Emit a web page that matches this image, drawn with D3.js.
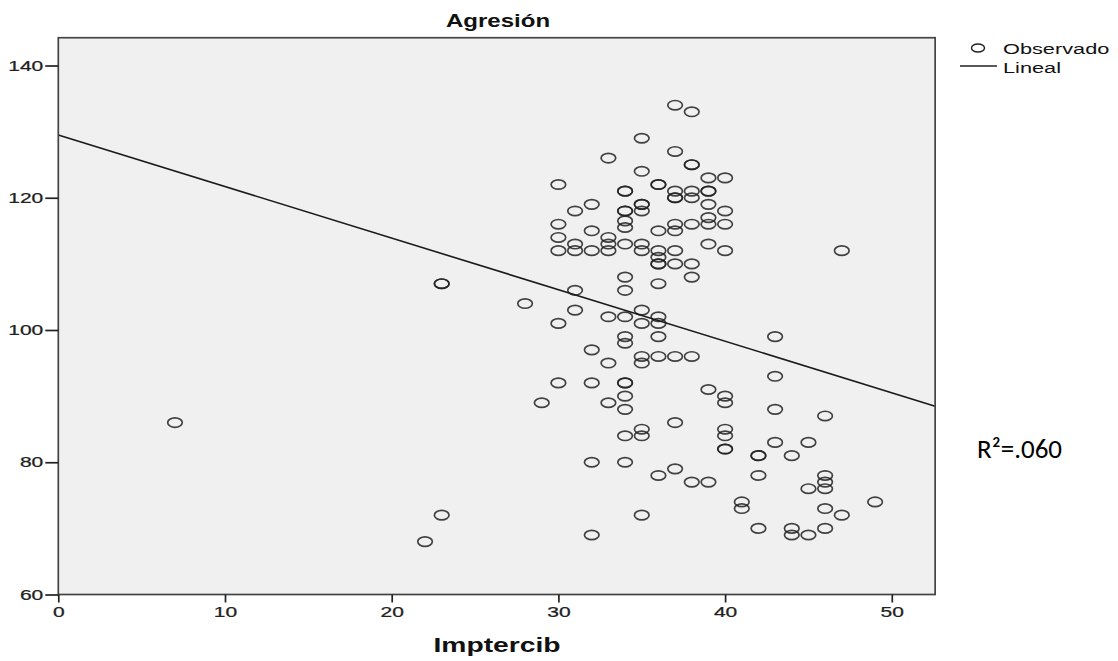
<!DOCTYPE html>
<html><head><meta charset="utf-8">
<script src="https://cdn.jsdelivr.net/npm/d3@7"></script>
<style>body{margin:0;background:#fff}svg{display:block}</style>
</head><body>
<svg id="c" width="1118" height="661"></svg>
<script>
const title = "Agresión";
const xLabel = "Imptercib";
const r2Label = "R²=.060";
const legendLabels = ["Observado", "Lineal"];
const xTicks = [0, 10, 20, 30, 40, 50];
const yTicks = [60, 80, 100, 120, 140];
const lineIntercept = 129.5;
const lineSlope = -0.78;
// observed points: [Imptercib, Agresión]
const pointsX = [7,22,23,23,23,28,29,
 30,30,30,30,30,30,
 31,31,31,31,31,
 32,32,32,32,32,32,32,
 33,33,33,33,33,33,33,
 34,34,34,34,34,34,34,34,34,34,34,34,34,34,34,34,34,34,
 35,35,35,35,35,35,35,35,35,35,35,35,35,35,
 36,36,36,36,36,36,36,36,36,36,36,36,36,
 37,37,37,37,37,37,37,37,37,37,37,37,
 38,38,38,38,38,38,38,38,38,38,
 39,39,39,39,39,39,39,39,39,
 40,40,40,40,40,40,40,40,40,40,
 41,41,42,42,42,42,43,43,43,43,44,44,44,45,45,45,
 46,46,46,46,46,46,47,47,49];
const pointsY = [86,68,107,107,72,104,89,
 122,116,114,112,101,92,
 118,113,112,106,103,
 119,115,112,97,92,80,69,
 126,114,113,112,102,95,89,
 121,118,118,116.5,115.5,113,108,106,102,99,98,92,92,90,88,84,80,121,
 129,124,119,118,113,112,103,101,96,95,85,84,72,119,
 122,122,115,112,111,110,107,102,101,99,96,78,110,
 134,127,121,120,120,116,115,112,110,96,86,79,
 133,125,125,121,120,116,110,108,96,77,
 123,121,121,119,117,116,113,91,77,
 123,118,116,112,90,89,85,84,82,82,
 74,73,81,78,70,81,99,93,88,83,81,70,69,83,76,69,
 87,78,77,76,73,70,112,72,74];

const svg = d3.select("#c");
const M = {left: 58.3, right: 935.5, top: 38.3, bottom: 594.5};
const x = d3.scaleLinear().domain([0, 52.6]).range([M.left, M.left + 16.67*52.6]);
const y = d3.scaleLinear().domain([60, 144.2]).range([M.bottom, M.bottom - 6.6125*84.2]);
const SX = 1.45; // horizontal stretch of SPSS text

svg.append("rect").attr("x", M.left).attr("y", y(144.2)).attr("width", x(52.6)-M.left)
  .attr("height", M.bottom - y(144.2)).attr("fill", "#f0f0f0");

const pts = pointsX.map((v,i)=>[v, pointsY[i]]);
svg.append("g").selectAll("ellipse").data(pts).join("ellipse")
  .attr("cx", d=>x(d[0])).attr("cy", d=>y(d[1])).attr("rx", 7.3).attr("ry", 4.7)
  .attr("fill", "none").attr("stroke", "#222").attr("stroke-width", 1.7).attr("stroke-opacity", 0.85);

svg.append("line")
  .attr("x1", x(0)).attr("y1", y(lineIntercept))
  .attr("x2", x(52.6)).attr("y2", y(lineIntercept + lineSlope*52.6))
  .attr("stroke", "#1a1a1a").attr("stroke-width", 1.6);

// frame
svg.append("rect").attr("x", M.left).attr("y", y(144.2)).attr("width", x(52.6)-M.left)
  .attr("height", M.bottom - y(144.2)).attr("fill", "none").attr("stroke", "#444").attr("stroke-width", 1.7);

const fam = "'Liberation Sans', Arial, sans-serif";
const gy = svg.append("g").attr("transform", `translate(${M.left},0)`)
  .call(d3.axisLeft(y).tickValues(yTicks).tickSize(13).tickSizeOuter(0).tickPadding(2));
const gx = svg.append("g").attr("transform", `translate(0,${M.bottom})`)
  .call(d3.axisBottom(x).tickValues(xTicks).tickSize(8).tickSizeOuter(0).tickPadding(4));
[gy, gx].forEach(g=>{
  g.select(".domain").remove();
  g.selectAll(".tick line").attr("stroke", "#222").attr("stroke-width", 1.7);
  g.selectAll(".tick text").attr("font-family", fam).attr("font-size", 14.5).attr("fill", "#222")
    .attr("stroke", "#222").attr("stroke-width", 0.25)
    .attr("transform", `scale(${SX},1)`);
});
gy.selectAll(".tick text").attr("x", -15/SX);

function stext(px, py, txt, size, weight, anchor, sx) {
  return svg.append("text").attr("transform", `translate(${px},${py}) scale(${sx || SX},1)`)
    .attr("font-family", fam).attr("font-size", size).attr("font-weight", weight)
    .attr("text-anchor", anchor).attr("fill", "#111").text(txt);
}
stext(498, 27, title, 18.5, "bold", "middle", 1.3);
stext(497, 652, xLabel, 19.5, "bold", "middle");

// legend
svg.append("ellipse").attr("cx", 978).attr("cy", 48).attr("rx", 6.5).attr("ry", 4)
  .attr("fill", "none").attr("stroke", "#222").attr("stroke-width", 1.4);
svg.append("line").attr("x1", 960).attr("x2", 997).attr("y1", 66).attr("y2", 66)
  .attr("stroke", "#222").attr("stroke-width", 1.7);
stext(1003, 53.5, legendLabels[0], 15, "normal", "start");
stext(1003, 72.5, legendLabels[1], 15, "normal", "start");

svg.append("text").attr("x", 977).attr("y", 458).attr("font-family", "Carlito, 'Open Sans', 'Liberation Sans', sans-serif")
  .attr("font-size", 27).attr("fill", "#000").text(r2Label);
</script>
</body></html>
